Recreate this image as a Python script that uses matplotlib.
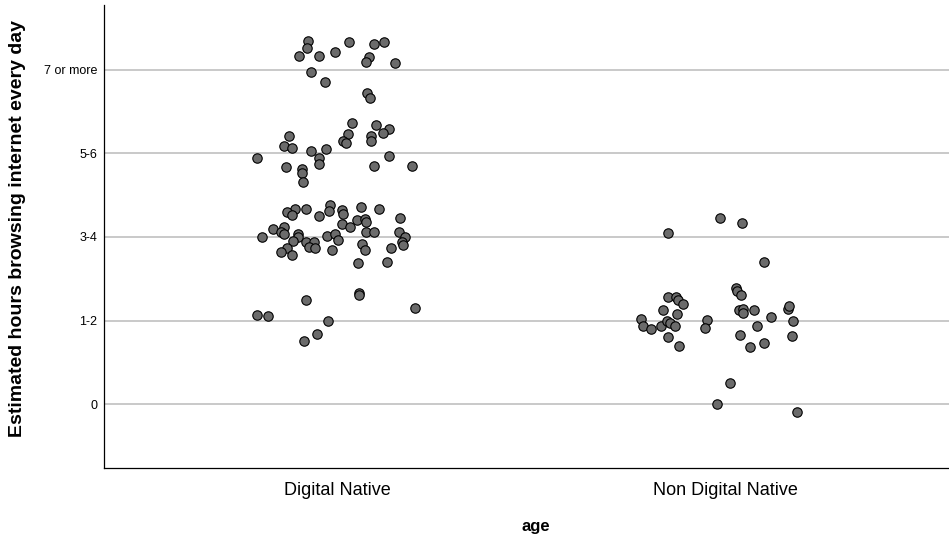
import matplotlib
matplotlib.use("Agg")
import matplotlib.pyplot as plt

plt.rcParams['font.family'] = ['Liberation Sans', 'DejaVu Sans']

categories = ['Digital Native', 'Non Digital Native']
y_ticks = [0, 1, 2, 3, 4]
y_ticklabels = ['0', '1-2', '3-4', '5-6', '7 or more']

# jittered positions (category index + jitter, value)
native_x = [-0.074, -0.078, -0.097, -0.047, -0.005, 0.031, 0.095, 0.121, 0.082, 0.075,
            0.150, -0.068, -0.030, 0.077, 0.084, 0.039, 0.102, 0.134, 0.120, 0.028,
            -0.124, 0.015, 0.023, 0.088, 0.088, -0.136, -0.116, -0.067, -0.028, -0.207,
            -0.046, -0.045, 0.135, -0.130, -0.090, 0.095, 0.194, -0.091, -0.088, -0.019,
            -0.020, 0.062, 0.108, -0.079, -0.108, -0.129, -0.115, 0.014, 0.016, -0.046,
            0.162, 0.053, 0.073, 0.075, 0.013, 0.034, -0.165, -0.137, -0.144, -0.135,
            -0.193, -0.101, -0.099, -0.025, -0.004, 0.074, 0.095, 0.160, 0.175, -0.114,
            -0.080, -0.059, 0.002, 0.168, 0.171, 0.065, -0.129, -0.143, -0.071, -0.056,
            -0.013, 0.072, 0.139, -0.115, 0.055, 0.130, 0.057, 0.057, -0.080, -0.206,
            -0.177, 0.200, -0.023, -0.051, -0.085]
native_y = [4.35, 4.26, 4.17, 4.17, 4.21, 4.34, 4.31, 4.33, 4.15, 4.10,
            4.08, 3.98, 3.86, 3.72, 3.66, 3.37, 3.34, 3.29, 3.24, 3.23,
            3.21, 3.15, 3.13, 3.21, 3.15, 3.09, 3.07, 3.03, 3.05, 2.94,
            2.94, 2.88, 2.97, 2.84, 2.82, 2.85, 2.85, 2.77, 2.66, 2.38,
            2.31, 2.36, 2.34, 2.34, 2.33, 2.30, 2.26, 2.32, 2.27, 2.25,
            2.23, 2.20, 2.22, 2.18, 2.16, 2.12, 2.10, 2.12, 2.06, 2.04,
            2.00, 2.04, 2.00, 2.01, 2.03, 2.06, 2.06, 2.06, 2.00, 1.95,
            1.94, 1.94, 1.96, 1.94, 1.90, 1.92, 1.87, 1.82, 1.88, 1.87,
            1.85, 1.84, 1.87, 1.78, 1.69, 1.70, 1.33, 1.30, 1.25, 1.06,
            1.05, 1.15, 0.99, 0.84, 0.75]

non_native_x = [-0.147, -0.014, 0.043, 0.101, 0.027, 0.032, 0.040, -0.146, -0.126, -0.121,
                -0.108, -0.159, -0.124, 0.036, 0.046, 0.045, 0.074, 0.163, 0.166, -0.216,
                -0.046, 0.118, 0.175, -0.211, -0.191, -0.165, -0.149, -0.142, -0.130, -0.052,
                0.083, -0.147, -0.118, 0.039, 0.064, 0.101, 0.173, 0.012, -0.020, 0.186]
non_native_y = [2.05, 2.23, 2.17, 1.70, 1.39, 1.35, 1.30, 1.28, 1.28, 1.25,
                1.20, 1.13, 1.08, 1.13, 1.14, 1.09, 1.12, 1.14, 1.17, 1.02,
                1.01, 1.04, 0.99, 0.93, 0.90, 0.94, 1.00, 0.97, 0.93, 0.91,
                0.93, 0.80, 0.69, 0.83, 0.68, 0.73, 0.82, 0.25, 0.00, -0.10]

fig = plt.figure(figsize=(9.49, 5.37), dpi=100)
ax = fig.add_axes([0.1096, 0.1285, 0.8904, 0.8622])

for i, (xs, ys) in enumerate([(native_x, native_y), (non_native_x, non_native_y)]):
    ax.scatter([i + d for d in xs], ys, s=46, color='#6b6b6b',
               edgecolors='black', linewidths=0.8, zorder=3)

ax.set_xlim(-0.6, 1.577)
ax.set_ylim(-0.766, 4.778)
ax.set_xticks([0, 1])
ax.set_xticklabels(categories, fontsize=13)
ax.set_yticks(y_ticks)
ax.set_yticklabels(y_ticklabels, fontsize=9)
ax.tick_params(axis='both', length=0)
ax.tick_params(axis='y', pad=5)
ax.tick_params(axis='x', pad=10)
ax.grid(axis='y', color='#c0c0c0', linewidth=1.2, zorder=0)

ax.spines['top'].set_visible(False)
ax.spines['right'].set_visible(False)
ax.spines['left'].set_linewidth(0.9)
ax.spines['bottom'].set_linewidth(0.9)

ax.set_ylabel('Estimated hours browsing internet every day', fontsize=14,
              fontweight='bold', va='center')
ax.yaxis.set_label_coords(-0.102, 0.518)
ax.set_xlabel('age', fontsize=12, fontweight='bold', va='center')
ax.xaxis.set_label_coords(0.511, -0.127)

plt.savefig('out.png', dpi=100)
